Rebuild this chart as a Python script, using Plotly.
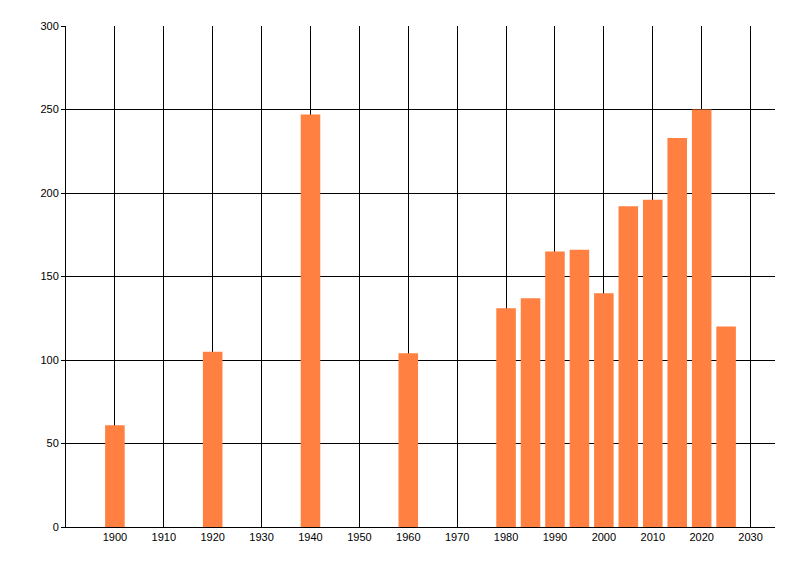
import plotly.graph_objects as go

years = [1900, 1920, 1940, 1960, 1980, 1985, 1990, 1995, 2000, 2005, 2010, 2015, 2020, 2025]
values = [61, 105, 247, 104, 131, 137, 165, 166, 140, 192, 196, 233, 250, 120]

x_ticks = list(range(1900, 2031, 10))
y_ticks = list(range(0, 301, 50))

fig = go.Figure()
fig.add_trace(go.Bar(x=years, y=values, width=4,
                     marker=dict(color="#FF8040", line=dict(width=0))))

# page body has an 8px margin, so the margins are shifted to compensate
fig.update_layout(
    width=800, height=576,
    margin=dict(l=58, r=33, t=18, b=57),
    paper_bgcolor="white", plot_bgcolor="white",
    showlegend=False,
    font=dict(family="Liberation Sans, Arial, sans-serif", size=11, color="black"),
)
fig.update_xaxes(
    range=[1890, 2035], tickvals=x_ticks, ticktext=[str(t) for t in x_ticks],
    showgrid=True, gridcolor="black", gridwidth=1,
    showline=True, linecolor="black", linewidth=1,
    ticks="", zeroline=False, automargin=False,
)
fig.update_yaxes(
    range=[0, 300], tickvals=y_ticks,
    showgrid=True, gridcolor="black", gridwidth=1,
    showline=True, linecolor="black", linewidth=1,
    ticks="outside", ticklen=4, tickcolor="black", zeroline=False, automargin=False,
)

fig.write_html("out.html")
